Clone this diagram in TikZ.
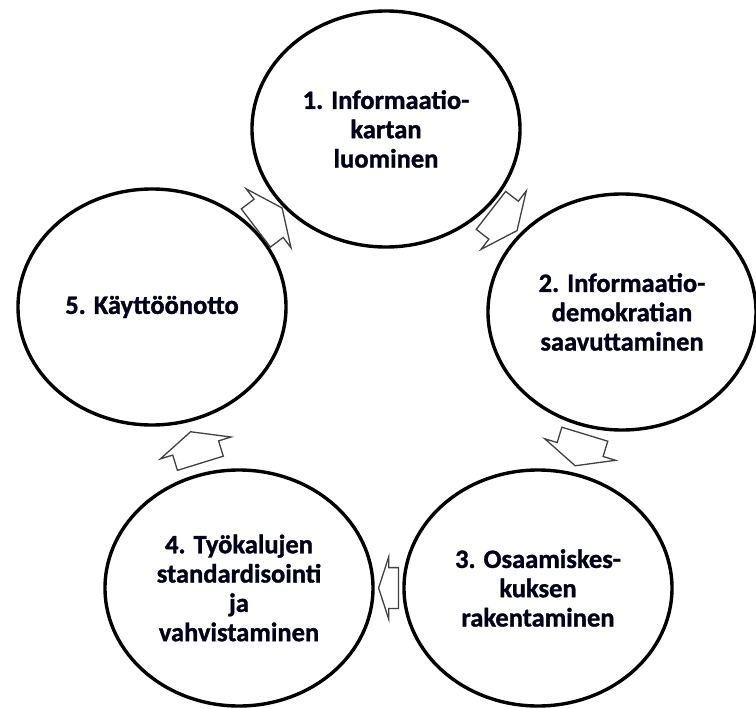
\documentclass[tikz,border=0pt]{standalone}
\usepackage{fontspec}
\setmainfont{Carlito}[BoldFeatures={FakeBold=1.2}]
\usetikzlibrary{calc,shapes.geometric}

\tikzset{
  phase/.style={draw=black, line width=3.4pt, fill=white, ellipse,
    minimum width=268pt, minimum height=236pt, inner sep=0pt,
    align=center, text=black!90!blue,
    font=\bfseries\fontsize{26.5}{29.3}\selectfont},
  arrowline/.style={draw=black!75, line width=1.3pt, fill=white, line join=miter},
  blockarrow/.pic={
    \path[arrowline] (-16.5,-24) -- (-0.5,-24) -- (-0.5,-37) -- (16.5,0)
      -- (-0.5,37) -- (-0.5,24) -- (-16.5,24) -- cycle;
  }
}

% stubby block arrow halfway between two phases, pointing from #2 to #3
\newcommand\cyclearrow[3][]{%
  \path let \p1=(#2.center), \p2=(#3.center),
    \n1={atan2(\y2-\y1,\x2-\x1)} in
    pic[rotate=\n1, #1] at ($(\p1)!0.5!(\p2)$) {blockarrow};
}

\begin{document}
\begin{tikzpicture}[x=1pt, y=-1pt]
  \useasboundingbox (0,0) rectangle (756,709);

  % the five phases of the cycle
  \node[phase] (p1) at (386,129) {1. Informaatio-\\kartan\\luominen};
  \node[phase] (p2) at (622,312) {2. Informaatio-\\demokratian\\saavuttaminen};
  \node[phase] (p3) at (538,588) {3. Osaamiskes-\\kuksen\\rakentaminen};
  \node[phase] (p4) at (239,588) {4. Työkalujen\\standardisointi\\ja\\vahvistaminen};
  \node[phase] (p5) at (152,307) {5. Käyttöönotto};

  % clockwise flow between the phases
  \cyclearrow{p1}{p2}
  \cyclearrow{p2}{p3}
  \cyclearrow[xscale=0.6, yscale=0.85]{p3}{p4}
  \cyclearrow{p4}{p5}
  \cyclearrow{p5}{p1}
\end{tikzpicture}
\end{document}
